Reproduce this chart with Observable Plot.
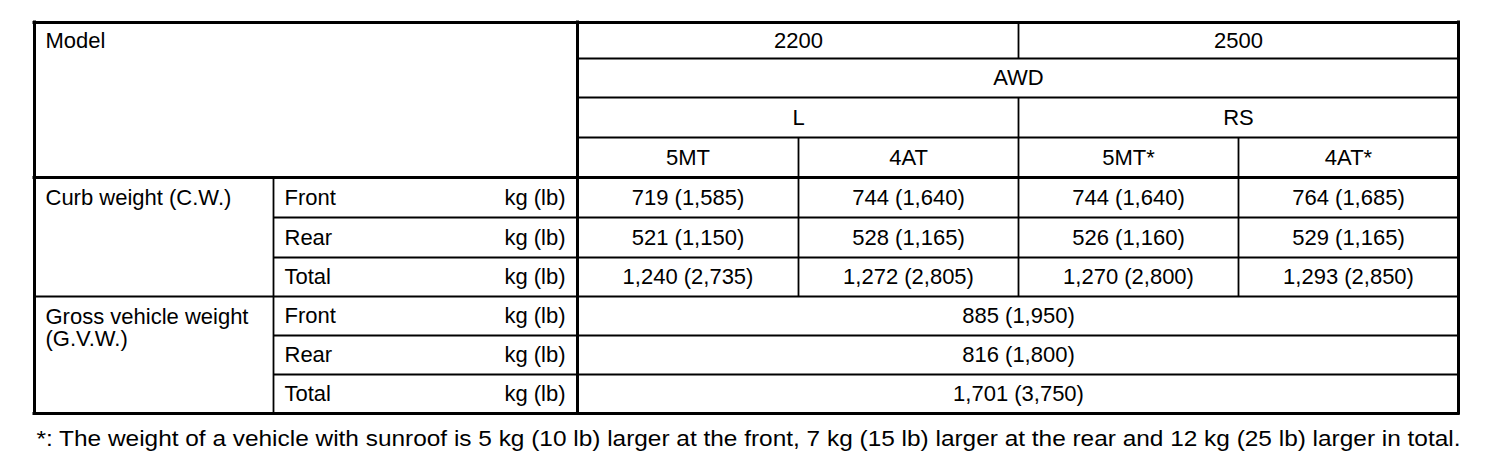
<!DOCTYPE html>
<html>
<head>
<meta charset="utf-8">
<script src="https://cdn.jsdelivr.net/npm/d3@7"></script>
<script src="https://cdn.jsdelivr.net/npm/@observablehq/plot@0.6"></script>
<style>
  body { margin: 0; background: #fff; }
</style>
</head>
<body>
<div id="chart"></div>
<script>
// encabezados de la tabla
const models = ["2200", "2500"];
const drives = ["AWD"];
const grades = ["L", "RS"];
const transmissions = ["5MT", "4AT", "5MT*", "4AT*"];
const weightGroups = ["Curb weight (C.W.)", "Gross vehicle weight\n(G.V.W.)"];
const parts = ["Front", "Rear", "Total"];
const unit = "kg (lb)";

// peso en vacio: filas Front, Rear, Total / columnas por version
const curbKg = [[719, 744, 744, 764], [521, 528, 526, 529], [1240, 1272, 1270, 1293]];
const curbLb = [[1585, 1640, 1640, 1685], [1150, 1165, 1160, 1165], [2735, 2805, 2800, 2850]];
// peso bruto, igual para todas las versiones
const gvwKg = [885, 816, 1701];
const gvwLb = [1950, 1800, 3750];

const footnote = "*: The weight of a vehicle with sunroof is 5 kg (10 lb) larger at the front, 7 kg (15 lb) larger at the rear and 12 kg (25 lb) larger in total.";

// bordes de columnas y filas en pixeles (la grilla va de 0..6 y 0..10)
const colEdges = [34, 273, 577, 798, 1018, 1238, 1458];
const rowEdges = [22, 58, 97, 137, 177, 217, 257, 296, 335, 374, 413];

const fmt = d3.format(",");
const cell = (kg, lb) => `${fmt(kg)} (${fmt(lb)})`;

// celdas centradas
const centered = [
  ...models.map((t, i) => ({x: 3 + 2 * i, y: 0.5, t})),
  ...drives.map(t => ({x: 4, y: 1.5, t})),
  ...grades.map((t, i) => ({x: 3 + 2 * i, y: 2.5, t})),
  ...transmissions.map((t, i) => ({x: 2.5 + i, y: 3.5, t})),
  ...curbKg.flatMap((row, r) => row.map((kg, c) => ({x: 2.5 + c, y: 4.5 + r, t: cell(kg, curbLb[r][c])}))),
  ...gvwKg.map((kg, r) => ({x: 4, y: 7.5 + r, t: cell(kg, gvwLb[r])}))
];

// etiquetas de la izquierda
const leftLabels = [
  {x: 0, y: 0.5, t: "Model"},
  {x: 0, y: 4.5, t: weightGroups[0]},
  ...[0, 1].flatMap(g => parts.map((t, i) => ({x: 1, y: 4.5 + 3 * g + i, t})))
];
const units = [0, 1, 2, 3, 4, 5].map(i => ({x: 2, y: 4.5 + i, t: unit}));

// lineas
const hThin = [1, 2, 3].map(y => ({y, x1: 2, x2: 6}))
  .concat([5, 6, 8, 9].map(y => ({y, x1: 1, x2: 6})));
const hThick = [{y: 0, x1: 0, x2: 6}, {y: 4, x1: 0, x2: 6}, {y: 10, x1: 0, x2: 6}];
const hMid = [{y: 7, x1: 0, x2: 6}];
const vThin = [
  {x: 1, y1: 4, y2: 10}, {x: 3, y1: 3, y2: 7}, {x: 4, y1: 0, y2: 1},
  {x: 4, y1: 2, y2: 7}, {x: 5, y1: 3, y2: 7}
];
const vThick = [0, 2, 6].map(x => ({x, y1: 0, y2: 10}));

const font = "Liberation Sans, Arial, Helvetica, sans-serif";

let chart = Plot.plot({
  width: 1504,
  height: 460,
  margin: 0,
  x: {type: "linear", domain: d3.range(colEdges.length), range: colEdges, axis: null},
  y: {type: "linear", domain: d3.range(rowEdges.length), range: rowEdges, axis: null},
  style: {background: "white", color: "black", fontFamily: font},
  marks: [
    Plot.ruleY(hThin, {y: "y", x1: "x1", x2: "x2", stroke: "black", strokeWidth: 1.8}),
    Plot.ruleY(hMid, {y: "y", x1: "x1", x2: "x2", stroke: "black", strokeWidth: 2.2}),
    Plot.ruleX(vThin, {x: "x", y1: "y1", y2: "y2", stroke: "black", strokeWidth: 1.8}),
    Plot.ruleY(hThick, {y: "y", x1: "x1", x2: "x2", stroke: "black", strokeWidth: 3, strokeLinecap: "square"}),
    Plot.ruleX(vThick, {x: "x", y1: "y1", y2: "y2", stroke: "black", strokeWidth: 3, strokeLinecap: "square"}),
    Plot.text(centered, {x: "x", y: "y", text: "t", fontSize: 22, fill: "black"}),
    Plot.text(leftLabels, {x: "x", y: "y", text: "t", textAnchor: "start", dx: 11, fontSize: 22, fill: "black"}),
    Plot.text([weightGroups[1]], {x: 0, y: 7.5, text: d => d, textAnchor: "start", lineAnchor: "top", lineHeight: 1, dx: 11, dy: -8, fontSize: 22, fill: "black"}),
    Plot.text(units, {x: "x", y: "y", text: "t", textAnchor: "end", dx: -12, fontSize: 22, fill: "black"}),
    Plot.text([footnote], {x: 0, y: 10, text: d => d, textAnchor: "start", dx: 2, dy: 25, fontSize: 22, fill: "black"})
  ]
})

// la nota al pie ocupa todo el ancho de la tabla
d3.select(chart).selectAll("text")
  .filter(function() { return this.textContent.startsWith("*:"); })
  .attr("textLength", 1424)
  .attr("lengthAdjust", "spacingAndGlyphs");

d3.select('#chart').append(() => chart)
</script>
</body>
</html>
